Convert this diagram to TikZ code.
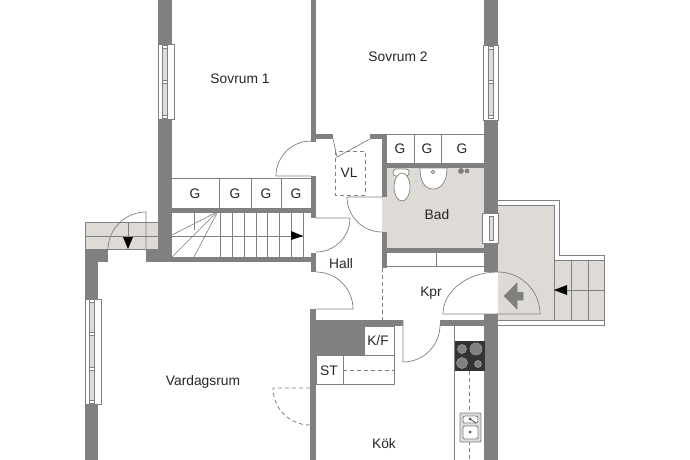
\documentclass[tikz,border=0pt]{standalone}
\usepackage{fontspec}
\setmainfont{Liberation Sans}
\usetikzlibrary{arrows.meta, positioning}
\definecolor{wallgray}{HTML}{808080}
\definecolor{floorgray}{HTML}{DEDAD6}
\definecolor{linegray}{HTML}{808080}
\definecolor{glassgray}{HTML}{DCDCDC}
\tikzset{
  wall/.style={fill=wallgray},
  floor/.style={fill=floorgray},
  fixture/.style={draw=linegray,line width=0.8pt},
  doorleaf/.style={draw=linegray,line width=0.7pt},
  hidden/.style={draw=linegray,line width=0.8pt,dash pattern=on 4pt off 3pt},
  roomlabel/.style={font=\fontsize{13.8}{16}\selectfont,text=black!85,inner sep=0pt}
}
% window seen from above: left, top, right, bottom, glass left, glass right
\newcommand{\planwindow}[6]{
  \draw[fixture,fill=white,line width=0.6pt] (#1,#2) rectangle (#3,#4);
  \draw[fixture,fill=glassgray,line width=0.4pt] (#5,#2+3) rectangle (#6,#4-3);
}
\begin{document}
\begin{tikzpicture}[x=1pt,y=-1pt]
  \useasboundingbox (0,0) rectangle (690,460);
  \fill[white] (0,0) rectangle (690,460);

  % Floor areas
  \fill[floor] (382,168) rectangle (485,248);
  \fill[floor] (498,205) rectangle (554,320);
  \fill[floor] (554,260) rectangle (604,320);
  \fill[floor] (85,222) rectangle (158,249);

  % Outer walls
  \fill[wall] (158,0) rectangle (172,262);
  \fill[wall] (484,0) rectangle (498,272);
  \fill[wall] (484,314) rectangle (498,460);
  \fill[wall] (85,249) rectangle (108,262);
  \fill[wall] (85,249) rectangle (98,460);
  \fill[wall] (146,249) rectangle (158,262);
  \fill[wall] (146,257) rectangle (316,262);

  % Inner walls
  \fill[wall] (311,0) rectangle (316,142);
  \fill[wall] (316,134) rectangle (333,139);
  \fill[wall] (370,134) rectangle (387,139);
  \fill[wall] (382,134) rectangle (387,197);
  \fill[wall] (382,232) rectangle (387,268);
  \fill[wall] (387,163) rectangle (485,168);
  \fill[wall] (387,248) rectangle (485,253);
  \fill[wall] (311,176) rectangle (316,218);
  \fill[wall] (311,253) rectangle (316,272);
  \fill[wall] (172,208) rectangle (316,213);
  \fill[wall] (310,309) rectangle (316,460);
  \fill[wall] (310,320) rectangle (403,326);
  \fill[wall] (440,320) rectangle (485,326);
  \fill[wall] (316,326) rectangle (364,355);

  % Windows
  \planwindow{158}{44}{174}{119}{162}{167}
  \planwindow{483}{45}{498}{120}{488}{493}
  \planwindow{482}{213}{498}{243}{489}{493}
  \planwindow{85}{299}{101}{404}{89}{94}
  \foreach \y in {47,82,117} {\draw[fixture,fill=white,line width=0.4pt] (162,\y-1.5) rectangle (167,\y+1.5);}
  \foreach \y in {48,82,117} {\draw[fixture,fill=white,line width=0.4pt] (488,\y-1.5) rectangle (493,\y+1.5);}
  \foreach \y in {301,334,369,402} {\draw[fixture,fill=white,line width=0.4pt] (89,\y-1.5) rectangle (94,\y+1.5);}

  % Closets
  \draw[fixture] (172,178) -- (311,178);
  \foreach \x in {219,251,281} {\draw[fixture] (\x,178) -- (\x,208);}
  \draw[fixture] (387,134) -- (484,134);
  \foreach \x in {414,441} {\draw[fixture] (\x,134) -- (\x,163);}
  \draw[fixture] (387,266) -- (484,266);
  \draw[fixture] (436,253) -- (436,266);
  \draw[hidden] (335,151) rectangle (365,195);
  \draw[hidden] (382,268) -- (382,320);

  % Inner stairs
  \draw[fixture] (172,236) -- (303,236);
  \foreach \x in {220,232,244,256,267,279,291,303} {\draw[fixture] (\x,213) -- (\x,257);}
  \draw[fixture] (194,213) -- (194,230);
  \draw[fixture,line width=0.6pt] (215,213) -- (172,235);
  \draw[fixture,line width=0.6pt] (216,213) -- (172,257);
  \draw[fixture,line width=0.6pt] (217,213) -- (194,257);
  \fill[black] (291,231) -- (303,236) -- (291,240) -- cycle;

  % Entrance stairs and door
  \draw[fixture] (85,222) rectangle (158,249);
  \draw[fixture] (85,236) -- (158,236);
  \draw[doorleaf] (146,249) -- (146,212) arc[start angle=90,end angle=180,radius=38pt];
  \draw[fixture] (128,222) -- (128,240);
  \fill[black] (123,237) -- (133,237) -- (128,249) -- cycle;

  % Doors
  \draw[doorleaf] (311,176) -- (276,176) arc[start angle=180,end angle=90,radius=35pt];
  \draw[doorleaf] (370,139) -- (337,157);
  \draw[doorleaf] (333,139) -- (337,157);
  \draw[doorleaf] (382,197) -- (347,197) arc[start angle=180,end angle=270,radius=35pt];
  \draw[doorleaf] (316,218) -- (350,218) arc[start angle=0,end angle=-90,radius=34pt];
  \draw[doorleaf] (316,309) -- (353,309) arc[start angle=0,end angle=90,radius=37pt];
  \draw[doorleaf] (403,320) -- (403,362) arc[start angle=270,end angle=360,radius=37pt];
  \draw[hidden] (310,388) -- (273,388) arc[start angle=180,end angle=270,radius=37pt];

  % Back door and terrace
  \draw[doorleaf] (498,314) -- (443,314) arc[start angle=180,end angle=90,x radius=55pt,y radius=42pt];
  \draw[doorleaf] (498,272) arc[start angle=90,end angle=0,radius=42pt] -- (498,314);
  \draw[fill=wallgray,draw=linegray,line width=0.5pt] (504,296) -- (517,283) -- (517,292) -- (523,292) -- (523,300) -- (517,300) -- (517,309) -- cycle;
  \draw[fixture] (498,200) -- (559,200) -- (559,255) -- (604,255) -- (604,325) -- (498,325);
  \draw[fixture] (498,205) -- (554,205) -- (554,320);
  \draw[fixture] (498,320) -- (604,320);
  \draw[fixture] (554,260) -- (604,260);
  \foreach \x in {571,588} {\draw[fixture] (\x,260) -- (\x,320);}
  \draw[fixture] (554,290) -- (604,290);
  \fill[black] (554,290) -- (567,285) -- (567,295) -- cycle;

  % Kitchen
  \draw[fixture] (364,326) rectangle (394,355);
  \draw[fixture] (316,355) rectangle (343,384);
  \draw[fixture] (343,355) rectangle (394,384);
  \draw[hidden] (343,370) -- (394,370);
  \draw[fixture] (454,326) -- (454,460);
  \fill[black!80] (455,341) rectangle (485,371);
  \foreach \x/\y/\r in {462/349/4.5,476/349/6,462/363/5.5,478/364/3.5} {\draw[fill=wallgray,draw=black!40,line width=0.6pt] (\x,\y) circle[radius=\r pt];}
  \draw[hidden] (469,371) -- (469,460);
  \draw[fixture,fill=glassgray,rounded corners=1pt] (460,413) rectangle (481,442);
  \draw[fixture,fill=white,rounded corners=2pt] (463,416) rectangle (478,423);
  \draw[fixture,fill=white,rounded corners=2pt] (463,426) rectangle (478,439);
  \fill[black!70] (470,419) circle[radius=1.5pt];
  \fill[black!70] (470,432) circle[radius=1.5pt];
  \draw[black!70,line width=0.8pt] (470,419) -- (476,423);

  % Bathroom fixtures
  \draw[doorleaf,fill=white,rounded corners=3pt] (393,169) rectangle (409,176);
  \draw[doorleaf,fill=white] (402,187) ellipse[x radius=8pt,y radius=14pt];
  \draw[doorleaf,fill=white] (420,168) -- (447,168) .. controls (447,182) and (441,189) .. (433,189) .. controls (425,189) and (420,182) .. (420,168) -- cycle;
  \draw[doorleaf,fill=glassgray] (433,172) circle[radius=1.8pt];
  \draw[doorleaf,fill=black!50] (461,171) circle[radius=2.5pt];
  \draw[doorleaf,fill=black!50] (467,171) circle[radius=2pt];

  % Labels
  \node[roomlabel] (sovrum1) at (240,79) {Sovrum 1};
  \node[roomlabel] (sovrum2) at (398,57) {Sovrum 2};
  \node[roomlabel] (vl) at (349,173) {VL};
  \node[roomlabel] (bad) at (437,215) {Bad};
  \node[roomlabel] (hall) at (341,264) {Hall};
  \node[roomlabel] (kpr) at (431,293) {Kpr};
  \node[roomlabel] (kf) at (378,341) {K/F};
  \node[roomlabel] (st) at (329,371) {ST};
  \node[roomlabel] (vardagsrum) at (203,382) {Vardagsrum};
  \node[roomlabel] (kok) at (384,444) {Kök};
  \foreach \x/\name in {195/a,235/b,266/c,296/d} {\node[roomlabel] (g\name) at (\x,194) {G};}
  \foreach \x/\name in {400/e,427/f,462/g} {\node[roomlabel] (g\name) at (\x,149) {G};}
\end{tikzpicture}
\end{document}
